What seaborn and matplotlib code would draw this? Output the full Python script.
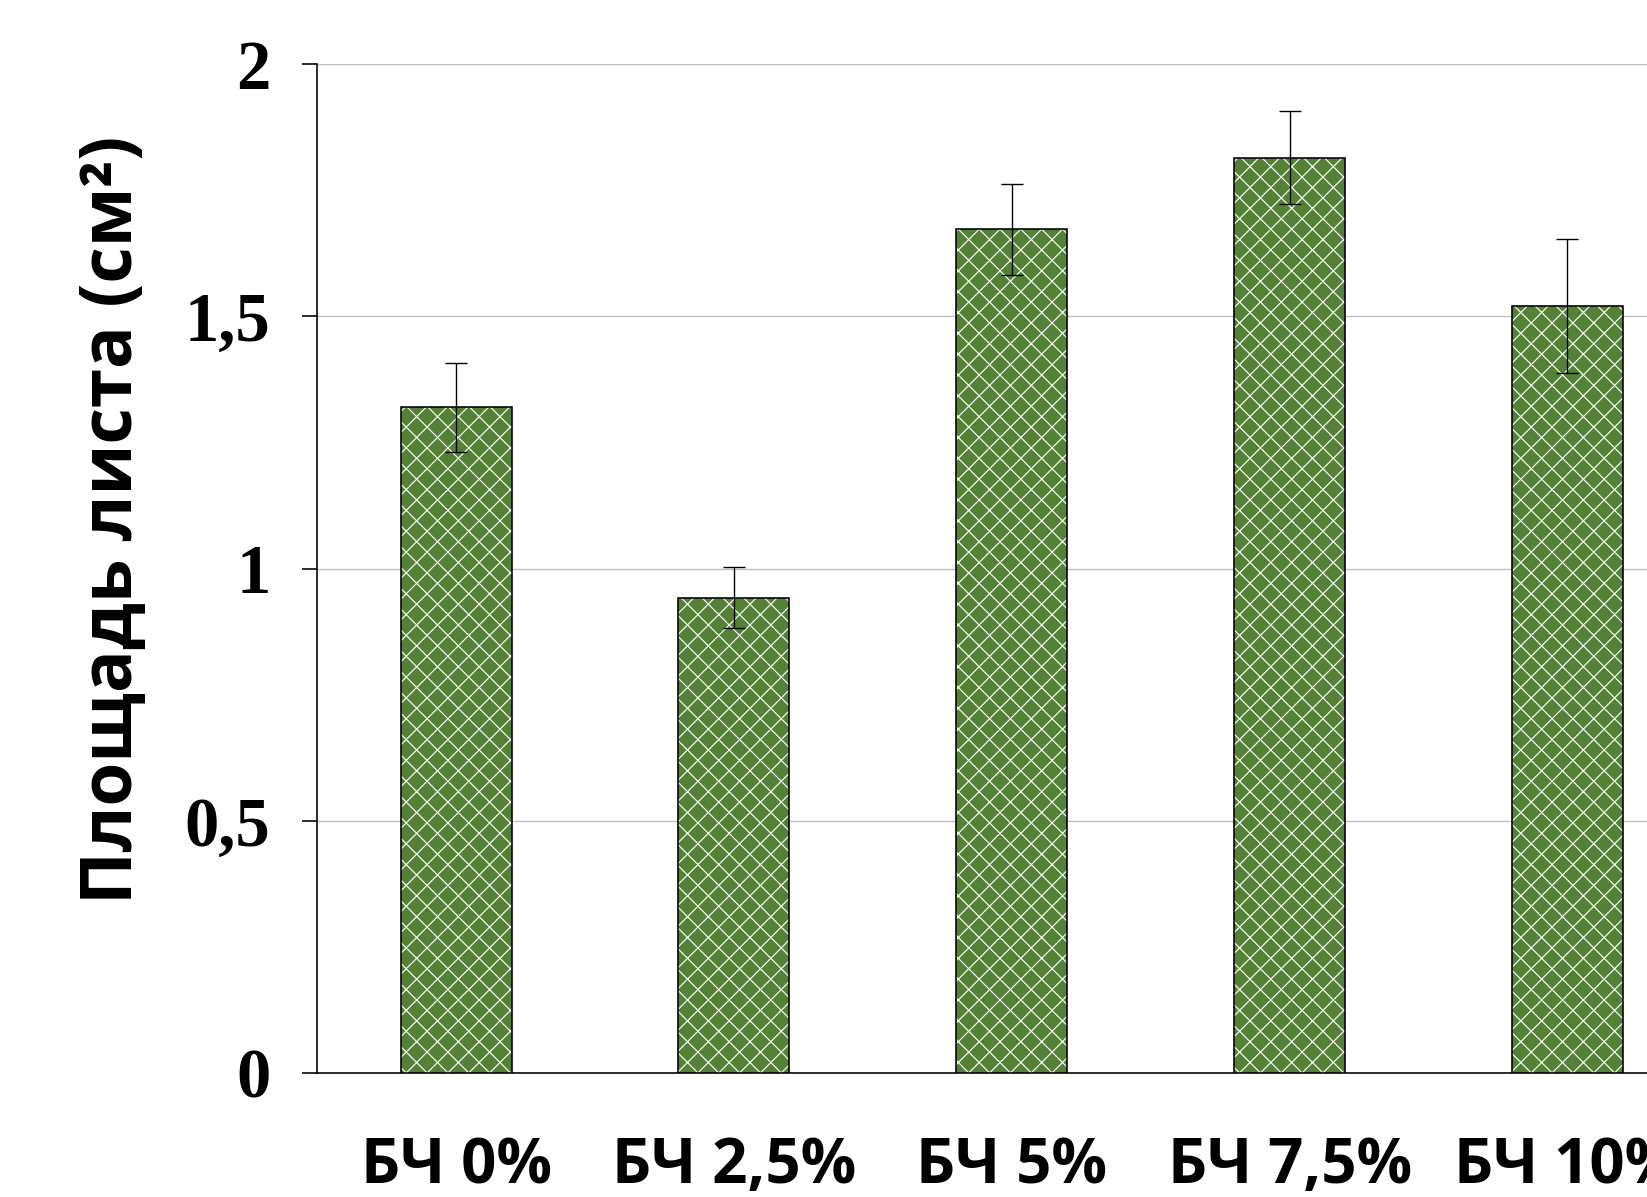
import matplotlib
matplotlib.use("Agg")
import matplotlib.pyplot as plt
import matplotlib.colors as mcolors
import seaborn as sns

# Leaf area by biochar dose
categories = ["БЧ 0%", "БЧ 2,5%", "БЧ 5%", "БЧ 7,5%", "БЧ 10%"]
leaf_area = [1.32, 0.943, 1.673, 1.815, 1.521]
leaf_area_err = [0.088, 0.06, 0.09, 0.092, 0.133]
y_ticks = [0, 0.5, 1, 1.5, 2]
y_tick_labels = ["0", "0,5", "1", "1,5", "2"]
y_label = "Площадь листа (см²)"

BAR_GREEN = "#538135"

# The hatch cell is tied to the dpi, so a lower dpi gives a finer lattice;
# all point sizes are scaled by S to keep the same pixel dimensions.
DPI = 125
S = 164.7 / DPI

sns.set_theme(style="white")
plt.rcParams.update({
    "hatch.linewidth": 0.5 * S,
    "text.color": "black",
    "axes.labelcolor": "black",
    "xtick.color": "black",
    "ytick.color": "black",
})

fig = plt.figure(figsize=(1647 / DPI, 1197 / DPI), dpi=DPI)
ax = fig.add_axes([0.1926, 0.1032, 1.036 - 0.1926, 0.9464 - 0.1032])

sns.barplot(x=categories, y=leaf_area, color=BAR_GREEN, saturation=1,
            width=0.4, errorbar=None, ax=ax, zorder=3)

white = mcolors.to_rgba("white")
for bar in ax.patches:
    bar.set_hatch("xx")
    bar.set_edgecolor("black")
    bar.set_linewidth(0.7 * S)
    bar._hatch_color = white

ax.errorbar(x=range(len(categories)), y=leaf_area, yerr=leaf_area_err,
            fmt="none", ecolor="black", elinewidth=0.6 * S, capsize=4.8 * S,
            capthick=0.6 * S, zorder=4)

ax.set_xlim(-0.5, 4.5)
ax.set_ylim(0, 2)
ax.set_yticks(y_ticks)
ax.set_yticklabels(y_tick_labels)
ax.yaxis.grid(True, color="#BFBFBF", linewidth=0.6 * S, zorder=0)
ax.set_axisbelow(True)

for side in ("top", "right"):
    ax.spines[side].set_visible(False)
for side in ("left", "bottom"):
    ax.spines[side].set_color("black")
    ax.spines[side].set_linewidth(0.7 * S)

ax.tick_params(axis="y", which="major", direction="out", length=6.5 * S,
               width=0.7 * S, color="black", pad=14 * S, left=True)
ax.tick_params(axis="x", length=0, pad=27 * S)

for lbl in ax.get_yticklabels():
    lbl.set_fontfamily(["Liberation Serif", "DejaVu Serif"])
    lbl.set_fontweight("bold")
    lbl.set_fontsize(30 * S)

for lbl in ax.get_xticklabels():
    lbl.set_fontfamily(["Open Sans", "DejaVu Sans"])
    lbl.set_fontweight("bold")
    lbl.set_fontsize(27 * S)

ax.set_xlabel("")
ax.set_ylabel(y_label, fontsize=31 * S, fontweight="bold",
              family=["Open Sans", "DejaVu Sans"])
ax.yaxis.set_label_coords(-0.121, 0.549)

fig.savefig("out.png", dpi=DPI)
